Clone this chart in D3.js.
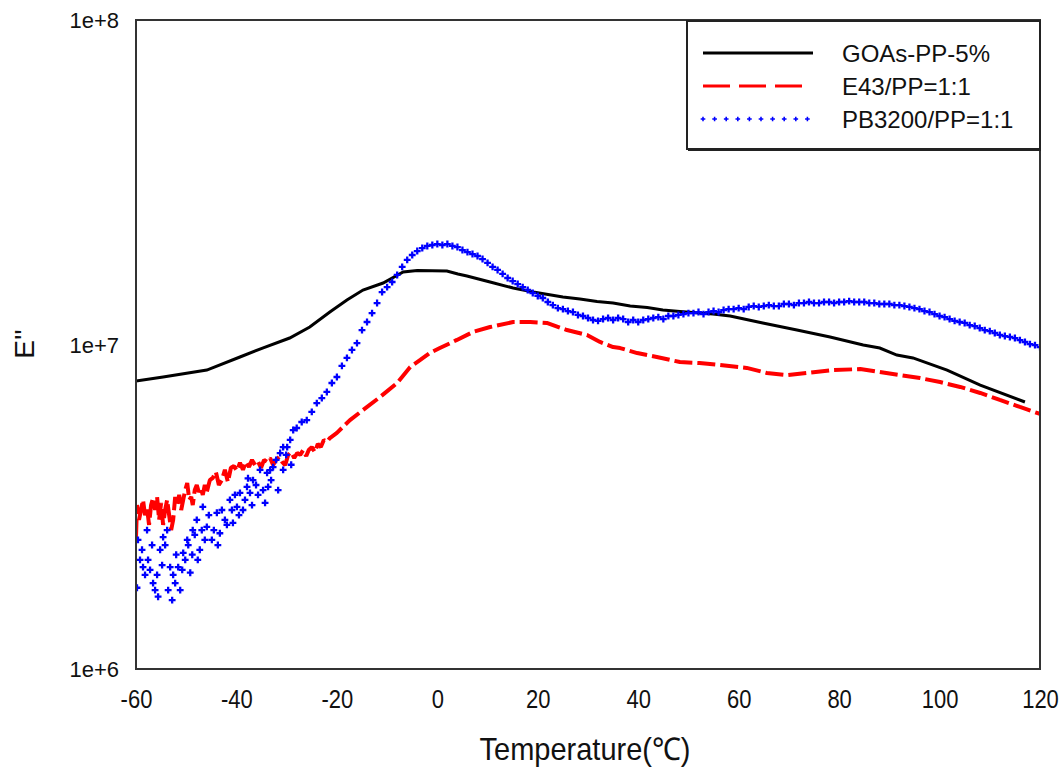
<!DOCTYPE html>
<html>
<head>
<meta charset="utf-8">
<script src="https://cdn.jsdelivr.net/npm/d3@7"></script>
<style>
  html, body { margin: 0; padding: 0; background: #fff; }
  svg { display: block; font-family: "Liberation Sans", Arial, sans-serif; }
</style>
</head>
<body>
<svg id="chart" width="1064" height="772"></svg>
<script>
// Loss modulus E'' versus temperature for three blends (DMA sweep)

const xTicks = [-60, -40, -20, 0, 20, 40, 60, 80, 100, 120];
const yTicks = [1e6, 1e7, 1e8];
const yTickLabels = ["1e+6", "1e+7", "1e+8"];
const seriesNames = ["GOAs-PP-5%", "E43/PP=1:1", "PB3200/PP=1:1"];

// GOAs-PP-5%: temperature (°C)
const goasT = [-60, -54.6, -45.9, -39.3, -34.8, -29.4, -25.4, -21.4, -18.0, -14.8, -10.8, -6.8, -4.0,
  1.9, 4.1, 5.9, 10.5, 15.1, 19.1, 25.0, 28.4, 31.8, 35.0, 38.4, 41.8, 44.9, 48.3, 54.9, 58.3,
  64.8, 71.6, 78.2, 84.8, 88.1, 91.5, 94.7, 101.5, 108.1, 117.0];
// GOAs-PP-5%: E'' (Pa)
const goasE = [7.72e6, 7.94e6, 8.34e6, 9.15e6, 9.75e6, 1.047e7, 1.132e7, 1.26e7, 1.371e7, 1.472e7, 1.547e7, 1.673e7, 1.69e7,
  1.685e7, 1.649e7, 1.626e7, 1.558e7, 1.493e7, 1.451e7, 1.401e7, 1.381e7, 1.357e7, 1.343e7, 1.314e7, 1.30e7, 1.277e7, 1.264e7, 1.242e7, 1.224e7,
  1.165e7, 1.108e7, 1.055e7, 9.97e6, 9.75e6, 9.28e6, 9.09e6, 8.34e6, 7.50e6, 6.65e6];

// E43/PP=1:1: temperature (°C)
const e43T = [-60.0, -59.8, -59.4, -59.0, -58.6, -58.2, -57.8, -57.4, -57.0, -56.6, -56.2, -55.8, -55.4, -55.0,
  -54.6, -54.2, -53.8, -53.4, -53.0, -52.6, -52.2, -51.8, -51.4, -51.0, -50.6, -50.2, -49.8, -49.4, -49.0,
  -48.7, -48.3, -47.9, -47.5, -47.1, -46.7, -46.3, -45.9, -45.3, -44.7, -44.1, -43.5, -42.9, -42.3, -41.7,
  -41.1, -40.5, -39.9, -39.3, -38.7, -38.1, -37.5, -36.9, -36.3, -35.7, -35.1, -34.5, -33.9, -33.3, -32.7,
  -32.1, -31.5, -30.9, -30.3, -29.7, -29.1, -28.5, -27.9, -27.3, -26.7, -26.1, -25.6, -25.0, -24.4, -23.8,
  -23.2, -22.6, -22.0, -21.4, -20.0, -17.4, -14.8, -11.4, -8.0, -5.4, -3.4, -1.5, 0.5, 3.9, 7.1, 10.5, 15.1, 18.5,
  21.8, 25.8, 29.8, 32.4, 35.0, 36.4, 39.8, 43.7, 48.3, 52.2, 56.2, 61.6, 65.6, 69.6, 73.6, 78.8, 84.2,
  88.1, 92.1, 96.1, 100.1, 104.1, 108.1, 112.0, 116.0, 120.0];
// E43/PP=1:1: E'' (Pa)
const e43E = [2.55e6, 3.20e6, 2.88e6, 3.09e6, 3.32e6, 2.98e6, 3.14e6, 2.78e6, 3.20e6, 3.37e6, 3.09e6, 3.39e6, 2.88e6, 3.25e6,
  2.78e6, 3.09e6, 3.32e6, 2.98e6, 2.68e6, 2.88e6, 3.39e6, 3.20e6, 3.44e6, 3.09e6, 3.32e6, 3.56e6, 3.74e6, 3.32e6, 3.39e6,
  3.20e6, 3.56e6, 3.69e6, 3.51e6, 3.61e6, 3.44e6, 3.69e6, 3.51e6, 3.82e6, 3.88e6, 4.05e6, 3.69e6, 3.82e6, 4.11e6, 3.77e6,
  4.17e6, 4.22e6, 4.08e6, 4.32e6, 4.11e6, 4.35e6, 4.19e6, 4.41e6, 4.25e6, 4.35e6, 4.17e6, 4.41e6, 4.35e6, 4.47e6, 4.25e6,
  4.41e6, 4.50e6, 4.35e6, 4.25e6, 4.57e6, 4.66e6, 4.47e6, 4.63e6, 4.57e6, 4.73e6, 4.53e6, 4.73e6, 4.83e6, 4.66e6, 4.94e6,
  4.83e6, 5.08e6, 5.01e6, 5.15e6, 5.34e6, 5.85e6, 6.28e6, 6.89e6, 7.61e6, 8.52e6, 8.96e6, 9.41e6, 9.75e6, 1.033e7, 1.093e7, 1.132e7, 1.173e7, 1.173e7,
  1.165e7, 1.108e7, 1.070e7, 1.018e7, 9.82e6, 9.75e6, 9.41e6, 9.15e6, 8.83e6, 8.77e6, 8.65e6, 8.47e6, 8.17e6, 8.05e6, 8.17e6, 8.34e6, 8.40e6,
  8.23e6, 8.05e6, 7.88e6, 7.66e6, 7.40e6, 7.09e6, 6.75e6, 6.42e6, 6.11e6];

// PB3200/PP=1:1: temperature (°C)
const pbT = [-59.8, -59.6, -59.2, -58.8, -58.6, -58.2, -57.8, -57.6, -57.2, -56.8, -56.6, -56.2, -55.8, -55.6, -55.2,
  -54.8, -54.6, -54.2, -53.8, -53.6, -53.2, -52.8, -52.6, -52.2, -52.0, -51.6, -51.2, -50.8, -50.6, -50.2, -49.8,
  -49.6, -49.2, -48.8, -48.7, -48.3, -47.9, -47.7, -47.3, -46.9, -46.7, -46.3, -45.9, -45.5, -44.9, -44.5, -43.9,
  -43.7, -43.3, -42.9, -42.3, -41.9, -41.3, -40.9, -40.7, -40.3, -39.9, -39.5, -39.3, -38.7, -38.3, -37.9, -37.7,
  -37.3, -36.9, -36.7, -36.1, -35.7, -35.3, -34.7, -34.3, -33.9, -33.7, -33.3, -33.1, -32.7, -32.1, -31.7, -31.3,
  -30.7, -30.7, -30.1, -29.9, -29.3, -29.1, -28.7,
  -28, -27, -26, -25, -24, -23, -22, -21, -20, -19, -18, -17, -16, -15, -14, -13, -12, -11, -10, -9, -8, -7, -6, -5,
  -4, -3, -2, -1, 0, 1, 2, 3, 4, 5, 6, 7, 8, 9, 10, 11, 12, 13, 14, 15, 16, 17, 18, 19, 20, 21, 22, 23, 24, 25,
  26, 27, 28, 29, 30, 31, 32, 33, 34, 35, 36, 37, 38, 39, 40, 41, 42, 43, 44, 45, 46, 47, 48, 49, 50, 51, 52, 53,
  54, 55, 56, 57, 58, 59, 60, 61, 62, 63, 64, 65, 66, 67, 68, 69, 70, 71, 72, 73, 74, 75, 76, 77, 78, 79, 80, 81,
  82, 83, 84, 85, 86, 87, 88, 89, 90, 91, 92, 93, 94, 95, 96, 97, 98, 99, 100, 101, 102, 103, 104, 105, 106, 107,
  108, 109, 110, 111, 112, 113, 114, 115, 116, 117, 118, 119, 120];
// PB3200/PP=1:1: E'' (Pa)
const pbE = [1.78e6, 2.50e6, 2.17e6, 2.33e6, 2.06e6, 1.95e6, 2.68e6, 2.17e6, 2.02e6, 2.41e6, 1.84e6, 1.75e6, 1.95e6, 1.67e6, 2.33e6,
  2.09e6, 2.55e6, 2.41e6, 2.68e6, 1.75e6, 2.06e6, 1.63e6, 1.95e6, 1.84e6, 2.25e6, 2.06e6, 1.75e6, 2.02e6, 2.28e6, 2.17e6, 2.50e6,
  2.41e6, 1.98e6, 2.25e6, 2.68e6, 2.59e6, 2.88e6, 2.17e6, 2.33e6, 2.68e6, 3.16e6, 2.50e6, 2.74e6, 2.98e6, 2.50e6, 2.68e6, 3.03e6,
  2.41e6, 2.62e6, 3.09e6, 2.88e6, 2.78e6, 3.32e6, 3.09e6, 2.82e6, 3.44e6, 3.16e6, 2.98e6, 3.49e6, 3.09e6, 3.32e6, 3.64e6, 3.87e6,
  3.49e6, 3.20e6, 3.82e6, 3.69e6, 3.44e6, 4.11e6, 3.56e6, 3.25e6, 4.02e6, 3.64e6, 4.10e6, 3.82e6, 4.19e6, 4.41e6, 3.56e6, 4.63e6,
  4.83e6, 4.11e6, 4.57e6, 4.83e6, 5.08e6, 4.26e6, 5.45e6,
  5.53e6, 5.77e6, 5.85e6, 6.20e6, 6.60e6, 6.84e6, 7.14e6, 7.61e6, 7.94e6, 8.59e6, 9.09e6, 9.62e6, 1.010e7, 1.108e7, 1.173e7, 1.250e7, 1.342e7, 1.451e7, 1.503e7, 1.558e7, 1.638e7, 1.734e7, 1.822e7, 1.887e7,
  1.941e7, 1.983e7, 2.012e7, 2.026e7, 2.040e7, 2.026e7, 2.040e7, 2.012e7, 1.997e7, 1.955e7, 1.927e7, 1.900e7, 1.874e7, 1.834e7, 1.784e7, 1.734e7, 1.697e7, 1.650e7, 1.603e7, 1.569e7, 1.536e7, 1.503e7, 1.472e7, 1.441e7, 1.411e7, 1.391e7, 1.352e7, 1.323e7, 1.295e7, 1.286e7,
  1.268e7, 1.259e7, 1.233e7, 1.224e7, 1.207e7, 1.190e7, 1.182e7, 1.198e7, 1.207e7, 1.190e7, 1.207e7, 1.198e7, 1.173e7, 1.190e7, 1.173e7, 1.190e7, 1.198e7, 1.207e7, 1.215e7, 1.198e7, 1.224e7, 1.224e7, 1.233e7, 1.241e7, 1.250e7, 1.250e7, 1.259e7, 1.241e7,
  1.259e7, 1.268e7, 1.259e7, 1.277e7, 1.286e7, 1.286e7, 1.295e7, 1.286e7, 1.305e7, 1.314e7, 1.305e7, 1.314e7, 1.323e7, 1.314e7, 1.314e7, 1.333e7, 1.333e7, 1.323e7, 1.342e7, 1.342e7, 1.352e7, 1.342e7, 1.342e7, 1.352e7, 1.352e7, 1.342e7, 1.352e7, 1.352e7,
  1.361e7, 1.352e7, 1.352e7, 1.352e7, 1.342e7, 1.342e7, 1.333e7, 1.333e7, 1.333e7, 1.323e7, 1.323e7, 1.314e7, 1.305e7, 1.295e7, 1.286e7, 1.268e7, 1.259e7, 1.241e7, 1.224e7, 1.215e7, 1.198e7, 1.182e7, 1.173e7, 1.165e7, 1.148e7, 1.140e7,
  1.124e7, 1.108e7, 1.100e7, 1.085e7, 1.070e7, 1.062e7, 1.055e7, 1.047e7, 1.032e7, 1.018e7, 1.003e7, 9.96e6, 9.82e6];

const svg = d3.select("#chart");
const plotL = 136, plotR = 1040, plotT = 20, plotB = 669;

const x = d3.scaleLinear().domain([-60, 120]).range([plotL, plotR]);
const y = d3.scaleLog().domain([1e6, 1e8]).range([plotB, plotT]);

const zip = (a, b) => a.map((t, i) => [t, b[i]]);
const goas = zip(goasT, goasE);
const e43 = zip(e43T, e43E);
const pb = zip(pbT, pbE);

const line = d3.line().x(d => x(d[0])).y(d => y(d[1]));

// plotting area clip
svg.append("clipPath").attr("id", "plotClip")
  .append("rect").attr("x", plotL).attr("y", plotT).attr("width", plotR - plotL).attr("height", plotB - plotT);

const plot = svg.append("g").attr("clip-path", "url(#plotClip)");

plot.append("path").datum(e43)
  .attr("d", line).attr("fill", "none")
  .attr("stroke", "#ff0000").attr("stroke-width", 4)
  .attr("stroke-dasharray", "18,5").attr("stroke-linejoin", "bevel");

plot.append("path").datum(goas)
  .attr("d", line).attr("fill", "none")
  .attr("stroke", "#000").attr("stroke-width", 3);

const cross = d3.symbol().type(d3.symbolCross).size(26);
plot.selectAll("path.pb").data(pb).join("path")
  .attr("class", "pb")
  .attr("d", cross)
  .attr("transform", d => `translate(${x(d[0])},${y(d[1])})`)
  .attr("fill", "#0000ff");

// frame
svg.append("rect").attr("x", plotL).attr("y", plotT)
  .attr("width", plotR - plotL).attr("height", plotB - plotT)
  .attr("fill", "none").attr("stroke", "#333").attr("stroke-width", 2);

// x axis
const xAxis = svg.append("g").attr("transform", `translate(0,${plotB})`)
  .call(d3.axisBottom(x).tickValues(xTicks).tickSize(0).tickFormat(d => `${d}`));
xAxis.select(".domain").remove();
xAxis.selectAll("text")
  .attr("y", 0).attr("dy", 0)
  .attr("transform", "translate(0,39) scale(1,1.15)")
  .attr("fill", "#111")
  .style("font-size", "22px")
  .style("font-family", "'Liberation Sans', Arial, sans-serif");

// y axis
const yAxis = svg.append("g").attr("transform", `translate(${plotL},0)`)
  .call(d3.axisLeft(y).tickValues(yTicks).tickSize(0).tickPadding(17)
    .tickFormat((d, i) => yTickLabels[i]));
yAxis.select(".domain").remove();
yAxis.selectAll("text")
  .attr("fill", "#111")
  .attr("dy", "0.36em")
  .style("font-size", "22px")
  .style("font-family", "'Liberation Sans', Arial, sans-serif");

// axis titles
svg.append("text")
  .attr("transform", "translate(585,760) scale(1,1.08)")
  .attr("text-anchor", "middle")
  .attr("fill", "#111")
  .style("font-size", "29px")
  .text("Temperature(℃)");

svg.append("text")
  .attr("transform", "translate(34,344) rotate(-90)")
  .attr("text-anchor", "middle")
  .attr("fill", "#111")
  .style("font-size", "28px")
  .text("E''");

// legend
const lg = svg.append("g");
lg.append("rect").attr("x", 687).attr("y", 21).attr("width", 353).attr("height", 128)
  .attr("fill", "#fff").attr("stroke", "#222").attr("stroke-width", 2);
lg.append("line").attr("x1", 688).attr("x2", 1041).attr("y1", 150).attr("y2", 150)
  .attr("stroke", "#222").attr("stroke-width", 2);

const lgX1 = 703, lgX2 = 813, lgTextX = 842;
const lgRows = [53, 86, 119];

lg.append("line").attr("x1", lgX1).attr("x2", lgX2).attr("y1", lgRows[0]).attr("y2", lgRows[0])
  .attr("stroke", "#000").attr("stroke-width", 3);
lg.append("line").attr("x1", lgX1).attr("x2", 804).attr("y1", lgRows[1]).attr("y2", lgRows[1])
  .attr("stroke", "#ff0000").attr("stroke-width", 3).attr("stroke-dasharray", "27,9");
const lgMarks = d3.range(10).map(i => lgX1 + i * 11.6);
lg.selectAll("path.lgm").data(lgMarks).join("path")
  .attr("class", "lgm")
  .attr("d", d3.symbol().type(d3.symbolCross).size(12))
  .attr("transform", d => `translate(${d},${lgRows[2]})`)
  .attr("fill", "#0000ff");

lg.selectAll("text.lgt").data(seriesNames).join("text")
  .attr("class", "lgt")
  .attr("x", lgTextX).attr("y", (d, i) => lgRows[i] + 9)
  .attr("fill", "#111")
  .style("font-size", "24px")
  .text(d => d);
</script>
</body>
</html>
